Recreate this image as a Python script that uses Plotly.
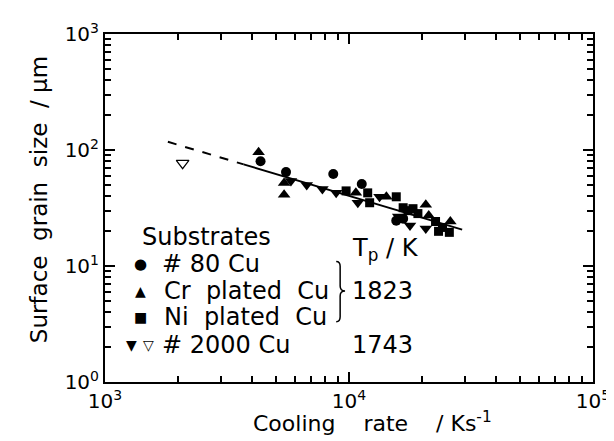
import plotly.graph_objects as go

# ---- data ----
cu80_rate = [4340, 5520, 8620, 11280, 15620, 16670]
cu80_size = [80.1, 64.5, 62.0, 51.0, 24.6, 25.6]
cr_rate = [4260, 5420, 5420, 10670, 14230, 20640, 21220, 26020]
cr_size = [95.6, 52.0, 41.1, 42.7, 39.5, 33.7, 27.2, 24.2]
ni_rate = [9730, 11930, 12150, 15620, 16670, 17460, 18290, 19160, 22630, 23280, 25780, 24160]
ni_size = [44.4, 42.7, 35.1, 39.5, 31.8, 30.0, 31.2, 28.3, 24.2, 19.9, 19.5, 21.5]
cu2000_rate = [5780, 6710, 7780, 8860, 10870, 13340, 15910, 17780, 20640]
cu2000_size = [54.1, 50.0, 46.2, 42.7, 35.1, 39.5, 26.7, 22.3, 21.1]
cu2000_open_rate = [2080]
cu2000_open_size = [77.0]
fit_dash_rate = [1810, 3700]
fit_dash_size = [117.7, 75.2]
fit_solid_rate = [3700, 29090]
fit_solid_size = [75.2, 20.6]

x_tickvals = [1e3, 1e4, 1e5]
x_ticktext = ["10<sup>3</sup>", "10<sup>4</sup>", "10<sup>5</sup>"]
y_tickvals = [1, 10, 100, 1000]
y_ticktext = ["10<sup>0</sup>", "10<sup>1</sup>", "10<sup>2</sup>", "10<sup>3</sup>"]

FONT = "DejaVu Sans"
fig = go.Figure()

fig.add_trace(go.Scatter(x=fit_dash_rate, y=fit_dash_size, mode="lines",
                         line=dict(color="black", width=2, dash="dash")))
fig.add_trace(go.Scatter(x=fit_solid_rate, y=fit_solid_size, mode="lines",
                         line=dict(color="black", width=2)))
fig.add_trace(go.Scatter(x=cu80_rate, y=cu80_size, mode="markers",
                         marker=dict(symbol="circle", size=10, color="black")))
fig.add_trace(go.Scatter(x=cr_rate, y=cr_size, mode="markers",
                         marker=dict(symbol="triangle-up", size=11, color="black")))
fig.add_trace(go.Scatter(x=ni_rate, y=ni_size, mode="markers",
                         marker=dict(symbol="square", size=9, color="black")))
fig.add_trace(go.Scatter(x=cu2000_rate, y=cu2000_size, mode="markers",
                         marker=dict(symbol="triangle-down", size=11, color="black")))
fig.add_trace(go.Scatter(x=cu2000_open_rate, y=cu2000_open_size, mode="markers",
                         marker=dict(symbol="triangle-down-open", size=11, color="black",
                                     line=dict(width=1.2))))

minor_x = [m * 10 ** e for e in (3, 4) for m in range(2, 10)]
minor_y = [m * 10 ** e for e in (0, 1, 2) for m in range(2, 10)]

axis_common = dict(showgrid=False, zeroline=False, showline=True, linecolor="black",
                   linewidth=2, mirror="allticks", ticks="inside", ticklen=10,
                   tickwidth=1.8, tickcolor="black",
                   tickfont=dict(family=FONT, size=20, color="black"))

fig.update_xaxes(type="log", range=[3, 5], tickmode="array", tickvals=x_tickvals,
                 ticktext=x_ticktext,
                 minor=dict(tickmode="array", tickvals=minor_x, ticks="inside",
                            ticklen=6, tickwidth=1.5, tickcolor="black", showgrid=False),
                 **axis_common)
fig.update_yaxes(type="log", range=[0, 3], tickmode="array", tickvals=y_tickvals,
                 ticktext=y_ticktext,
                 minor=dict(tickmode="array", tickvals=minor_y, ticks="inside",
                            ticklen=6, tickwidth=1.5, tickcolor="black", showgrid=False),
                 **axis_common)

L, R, T, B = 97, 21, 22, 67
W, H = 614, 441
pw, ph = W - L - R, H - T - B

def px(x):
    return (x - L) / pw

def py(y):
    return (H - B - y) / ph

ann = []
def txt(x, y, s, size=24, xanchor="left", **kw):
    ann.append(dict(x=px(x), y=py(y), xref="paper", yref="paper", text=s,
                    showarrow=False, xanchor=xanchor, yanchor="middle",
                    font=dict(family=FONT, size=size, color="black"), **kw))

txt(133, 227, "Substrates")
txt(133, 255, "●", size=15, xanchor="center")
txt(153, 255, "# 80 Cu")
txt(133, 282, "▲", size=14, xanchor="center")
txt(155, 282, "Cr  plated  Cu")
txt(133, 308, "■", size=14, xanchor="center")
txt(155, 308, "Ni  plated  Cu")
txt(124, 337, "▼", size=14, xanchor="center")
txt(141, 337, "▽", size=14, xanchor="center")
txt(153, 337, "# 2000 Cu")
txt(346, 240, "T<sub>p</sub> / K")
txt(346, 282, "1823")
txt(346, 337, "1743")
# axis titles
txt(369, 414, "Cooling    rate    / Ks<sup>-1</sup>", size=22, xanchor="center")
ann.append(dict(x=px(30), y=py(190), xref="paper", yref="paper",
                text="Surface  grain  size  / μm", textangle=-90, showarrow=False,
                xanchor="center", yanchor="middle",
                font=dict(family=FONT, size=23, color="black")))

# brace for 1823
bx, top, mid, bot = 336, 252, 282, 313
brace = (f"M {px(bx-4)},{py(top)} Q {px(bx)},{py(top)} {px(bx)},{py(top+5)} "
         f"L {px(bx)},{py(mid-5)} Q {px(bx)},{py(mid)} {px(bx+5)},{py(mid)} "
         f"Q {px(bx)},{py(mid)} {px(bx)},{py(mid+5)} "
         f"L {px(bx)},{py(bot-5)} Q {px(bx)},{py(bot)} {px(bx-4)},{py(bot)}")

fig.update_layout(width=W, height=H, margin=dict(l=L, r=R, t=T, b=B),
                  plot_bgcolor="white", paper_bgcolor="white", showlegend=False,
                  annotations=ann,
                  shapes=[dict(type="path", path=brace, xref="paper", yref="paper",
                               line=dict(color="black", width=1.5))])

fig.write_html("out.html")
